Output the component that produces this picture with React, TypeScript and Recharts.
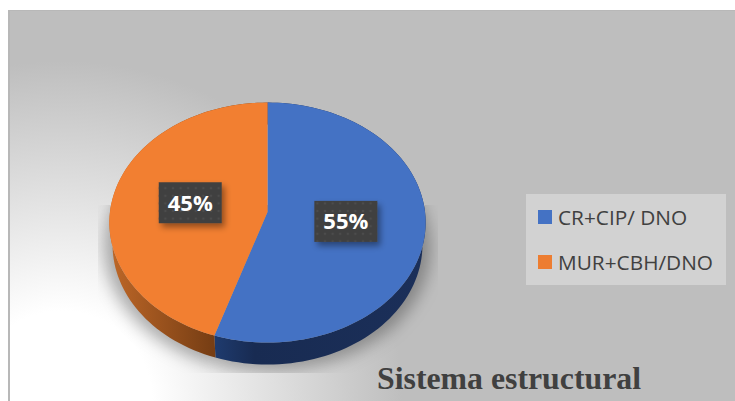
import React from "react";
import { PieChart, Pie, Legend } from "recharts";

const categories = ["CR+CIP/ DNO", "MUR+CBH/DNO"];
const shares = [55, 45];
const topColors = ["#4472c4", "#f27f31"];
const legendColors = ["#4472c4", "#ed7d31"];
const sideFills = ["url(#sideBlue)", "url(#sideOrange)"];
const chartTitle = "Sistema estructural";

const TILT = 0.0879;
const SQUASH = 0.7535;
const SHRINK = 0.997;
const DEPTH = 22;

const topData = categories.map((name, i) => ({ name, value: shares[i], fill: topColors[i] }));
const sideData = categories.map((name, i) => ({ name, value: shares[i], fill: sideFills[i] }));

function project(cx: number, cy: number, r: number, deg: number, frac = 1): [number, number] {
  const a = (deg * Math.PI) / 180;
  const u = Math.cos(a) * frac;
  const v = -Math.sin(a) * frac;
  const w = 1 - TILT * v;
  return [cx + (r * SHRINK * u) / w, cy + (r * SQUASH * v) / w];
}

function arcPoints(cx: number, cy: number, r: number, a0: number, a1: number, dy = 0, k = 1) {
  const n = Math.max(2, Math.ceil(Math.abs(a1 - a0) / 2));
  const pts: string[] = [];
  for (let i = 0; i <= n; i++) {
    const [x, y] = project(cx, cy, r, a0 + ((a1 - a0) * i) / n);
    pts.push(`${(cx + (x - cx) * k).toFixed(2)} ${(y + dy).toFixed(2)}`);
  }
  return pts;
}

function TopFace(p: any) {
  const pts = arcPoints(p.cx, p.cy, p.outerRadius, p.startAngle, p.endAngle);
  return <path d={`M${p.cx} ${p.cy}L${pts.join("L")}Z`} fill={p.fill} stroke="none" />;
}

function SideFace(p: any) {
  const upper = arcPoints(p.cx, p.cy, p.outerRadius, p.startAngle, p.endAngle);
  const lower = arcPoints(p.cx, p.cy, p.outerRadius, p.endAngle, p.startAngle, DEPTH, 0.98);
  return <path d={`M${upper.join("L")}L${lower.join("L")}Z`} fill={p.fill} stroke="none" />;
}

function ShadowFace(p: any) {
  const lower = arcPoints(p.cx, p.cy, p.outerRadius * 1.03, p.startAngle, p.endAngle, DEPTH + 3);
  return (
    <g clipPath="url(#shadowClip)">
      <path
        d={`M${p.cx} ${p.cy + DEPTH}L${lower.join("L")}Z`}
        fill="#000"
        fillOpacity={0.3}
        stroke="none"
        filter="url(#shadowBlur)"
      />
    </g>
  );
}

function DataLabel(p: any) {
  const [x, y] = project(p.cx, p.cy, p.outerRadius, p.midAngle, 0.5);
  const w = 63;
  const h = 41;
  return (
    <g>
      <rect x={x - w / 2} y={y - h / 2} width={w} height={h} fill="#404040" filter="url(#labelShadow)" />
      <rect x={x - w / 2} y={y - h / 2} width={w} height={h} fill="url(#labelDots)" />
      <text
        x={x}
        y={y + 8}
        textAnchor="middle"
        fill="#ffffff"
        fontFamily="'Open Sans', sans-serif"
        fontWeight={700}
        fontSize={22}
      >
        {`${p.value}%`}
      </text>
    </g>
  );
}

function LegendBox({ payload }: any) {
  const items = (payload || []).filter((e: any) => e.type !== "none");
  return (
    <div style={{ width: 200, height: 91, background: "#d2d2d2", position: "relative" }}>
      {items.map((e: any, i: number) => (
        <div
          key={e.value}
          style={{
            position: "absolute",
            left: 12,
            top: 45 * i,
            height: 45,
            display: "flex",
            alignItems: "center",
            fontFamily: "'Open Sans', sans-serif",
            fontSize: 20.8,
            color: "#404040",
            whiteSpace: "nowrap",
          }}
        >
          <span style={{ width: 14, height: 14, background: legendColors[i], marginRight: 6 }} />
          {e.value}
        </div>
      ))}
    </div>
  );
}

export default function App() {
  return (
    <div style={{ position: "absolute", left: 0, top: 0, width: 735, height: 401, background: "#fff", overflow: "hidden" }}>
      <div
        style={{
          position: "absolute",
          left: 8,
          top: 10,
          width: 727,
          height: 391,
          boxSizing: "border-box",
          borderLeft: "2px solid #b8b8b8",
          borderTop: "1px solid #b8b8b8",
          background: "radial-gradient(circle at 52px 390px, #ffffff 0px, #ffffff 90px, #bebebe 340px)",
        }}
      />
      <PieChart width={735} height={401} style={{ position: "absolute", left: 0, top: 0 }} margin={{ top: 0, right: 0, bottom: 0, left: 0 }}>
        <defs>
          <filter id="shadowBlur" x="-20%" y="-20%" width="140%" height="140%">
            <feGaussianBlur stdDeviation="8" />
          </filter>
          <filter id="labelShadow" x="-30%" y="-30%" width="170%" height="170%">
            <feDropShadow dx="3" dy="4" stdDeviation="3" floodColor="#000" floodOpacity="0.4" />
          </filter>
          <clipPath id="shadowClip">
            <rect x="98" y="205" width="340" height="168" />
          </clipPath>
          <pattern id="labelDots" width="7.6" height="7.6" patternUnits="userSpaceOnUse" x="2" y="2">
            <circle cx="3.8" cy="3.8" r="1.2" fill="#4c4c4c" />
          </pattern>
          <linearGradient id="sideOrange" gradientUnits="userSpaceOnUse" x1="112" y1="0" x2="212" y2="0">
            <stop offset="0" stopColor="#bc6627" />
            <stop offset="1" stopColor="#773e14" />
          </linearGradient>
          <linearGradient id="sideBlue" gradientUnits="userSpaceOnUse" x1="212" y1="0" x2="425" y2="0">
            <stop offset="0" stopColor="#1f3c70" />
            <stop offset="0.2" stopColor="#182b52" />
            <stop offset="1" stopColor="#1b2f59" />
          </linearGradient>
        </defs>
        <Pie
          data={sideData}
          dataKey="value"
          nameKey="name"
          cx={267.5}
          cy={212}
          outerRadius={158}
          startAngle={90}
          endAngle={-270}
          stroke="none"
          legendType="none"
          shape={ShadowFace}
          isAnimationActive={false}
        />
        <Pie
          data={sideData}
          dataKey="value"
          nameKey="name"
          cx={267.5}
          cy={212}
          outerRadius={158}
          startAngle={90}
          endAngle={-270}
          stroke="none"
          legendType="none"
          shape={SideFace}
          isAnimationActive={false}
        />
        <Pie
          data={topData}
          dataKey="value"
          nameKey="name"
          cx={267.5}
          cy={212}
          outerRadius={158}
          startAngle={90}
          endAngle={-270}
          stroke="none"
          legendType="square"
          shape={TopFace}
          label={DataLabel}
          labelLine={false}
          isAnimationActive={false}
        />
        <Legend
          content={LegendBox}
          wrapperStyle={{ position: "absolute", left: 526, top: 194, width: 200, height: 91, bottom: "auto", right: "auto" }}
        />
        <text x={377} y={389} fontFamily="'Liberation Serif', serif" fontWeight={700} fontSize={31.8} fill="#404040">
          {chartTitle}
        </text>
      </PieChart>
    </div>
  );
}
